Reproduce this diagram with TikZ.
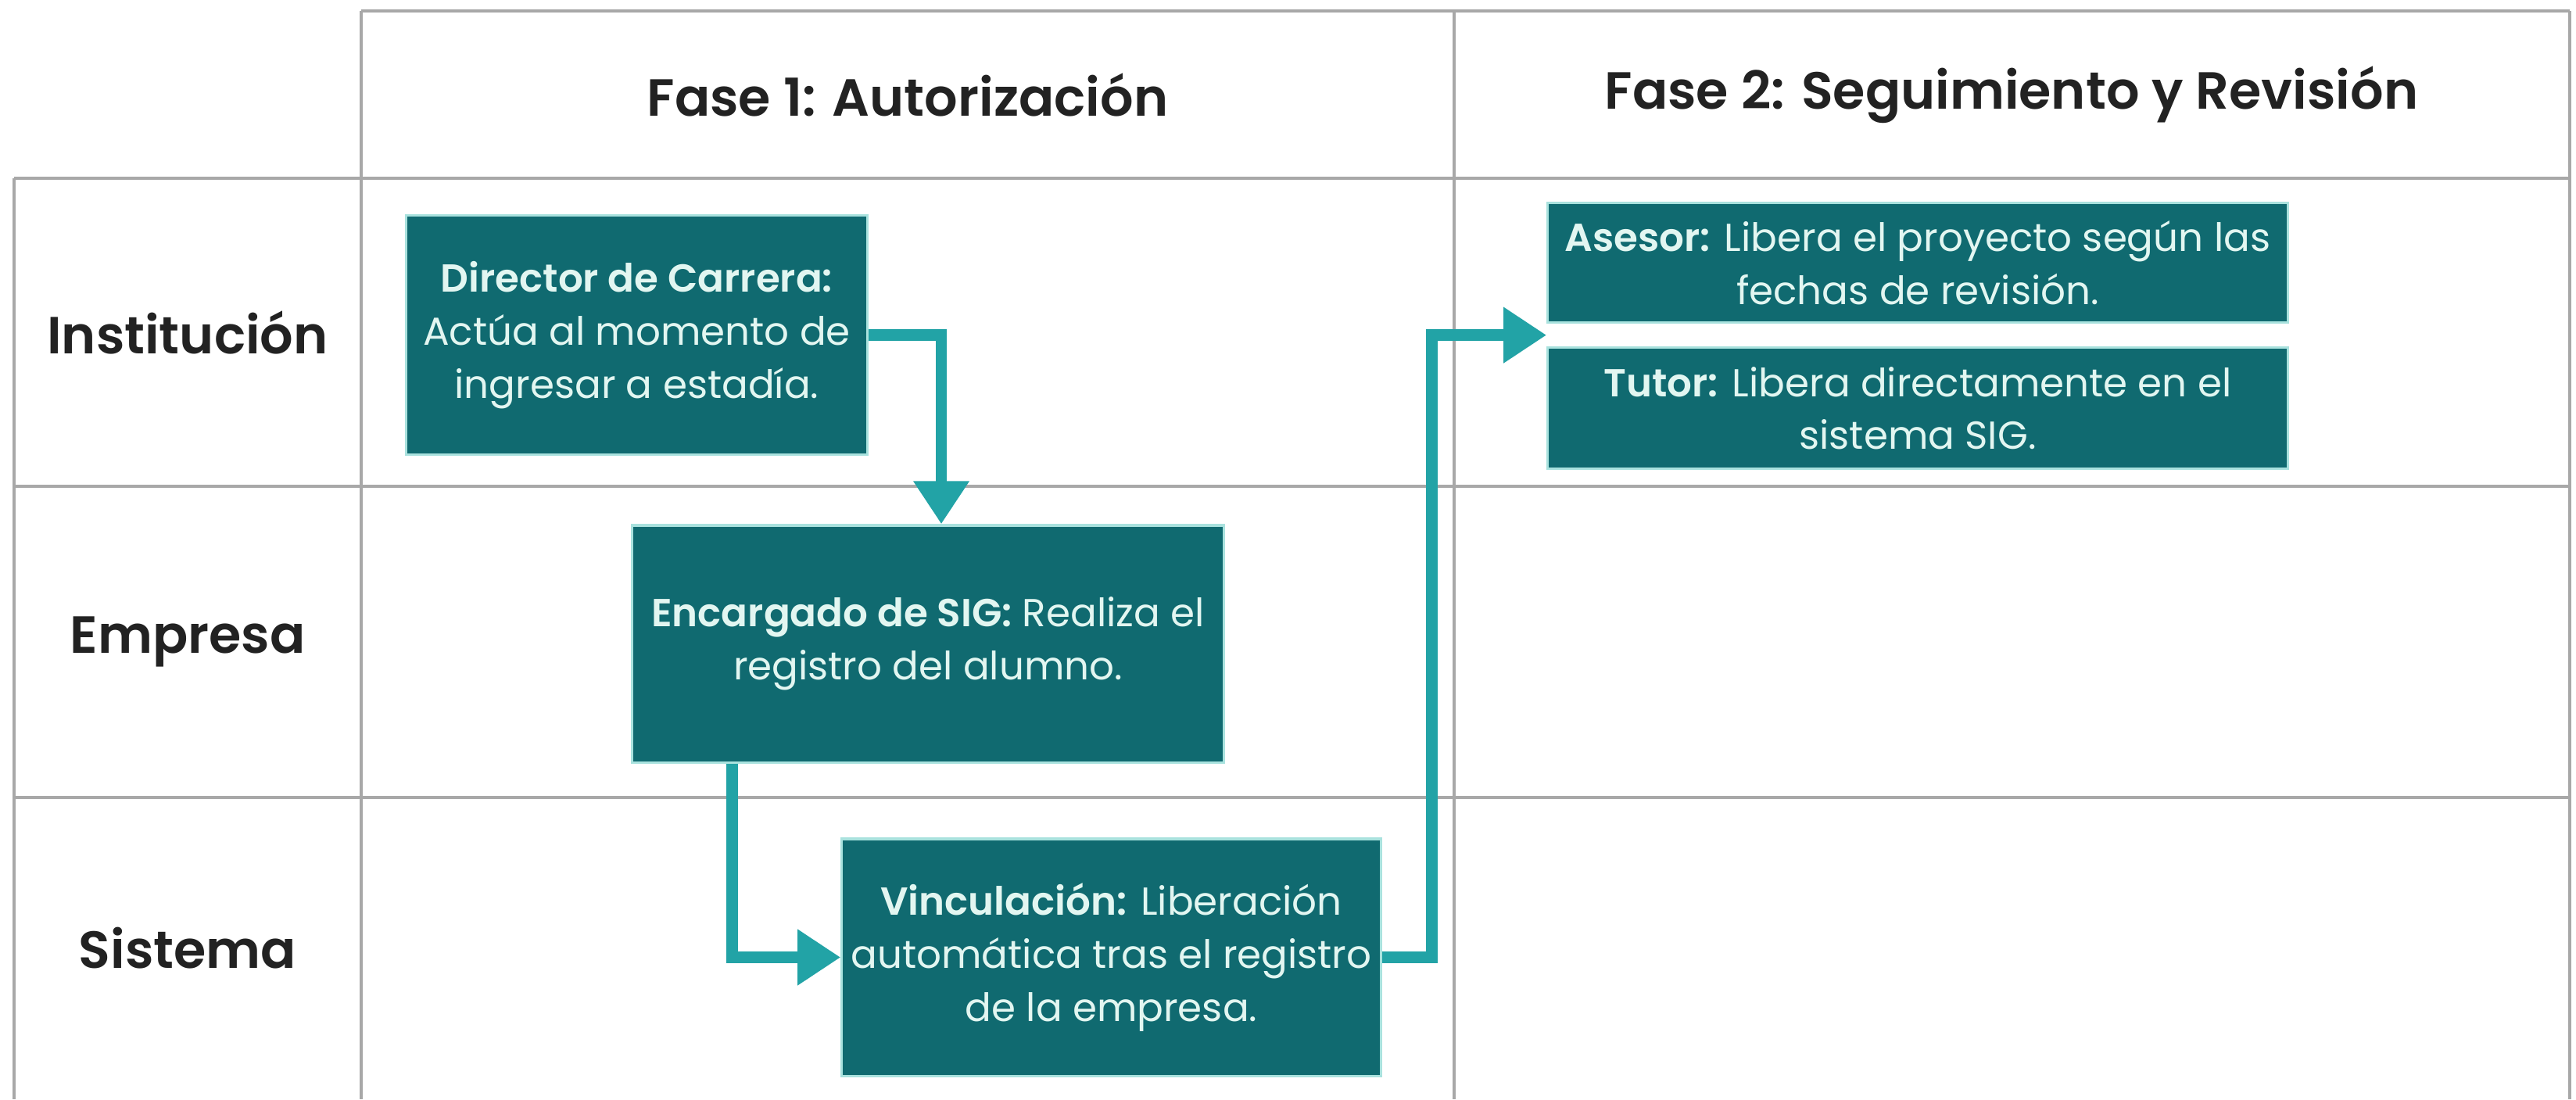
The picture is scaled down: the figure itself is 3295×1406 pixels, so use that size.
\documentclass[tikz,border=0pt]{standalone}
\usepackage{fontspec}
\setmainfont{Poppins}[BoldFont={Poppins SemiBold}]
\usepackage{tikz}
\usetikzlibrary{calc,positioning,arrows.meta}
\definecolor{tealbox}{HTML}{106A70}
\definecolor{tealline}{HTML}{22A3A6}
\definecolor{tealedge}{HTML}{A9E2DE}
\definecolor{boxtext}{HTML}{E2F6F1}
\definecolor{gridgray}{HTML}{A8A8A8}
\definecolor{labeltext}{HTML}{222222}

\begin{document}
\begin{tikzpicture}[
                x=0.01cm,y=-0.01cm,
                node distance=0pt,
                caja/.style n args={2}{draw=tealedge,line width=0.9pt,fill=tealbox,text=boxtext,minimum width=#1,minimum height=#2,align=center,inner sep=0pt,font=\fontsize{14.2}{19.3}\selectfont},
                rotulo/.style={text=labeltext,font=\fontsize{19}{22}\selectfont\bfseries},
                rejilla/.style={draw=gridgray,line width=0.9pt},
                flujo/.style={draw=tealline,line width=4.2pt,-{Triangle[length=0.55cm,width=0.68cm]}}
            ]
                \useasboundingbox (0,0) rectangle (3295,1406);
                % tabla
                \draw[rejilla] (462,14) -- (3287,14);
                \foreach \y in {228,622,1020}
                    \draw[rejilla] (18,\y) -- (3287,\y);
                \draw[rejilla] (18,228) -- (18,1406);
                \foreach \x in {462,1860,3287}
                    \draw[rejilla] (\x,14) -- (\x,1406);
                % encabezados
                \node (f1) [rotulo] at (1161,121) {Fase 1: Autorización};
                \node (f2) [rotulo] at (2573,121) {Fase 2: Seguimiento y Revisión};
                \node (inst) [rotulo] at (240,425) {Institución};
                \node (emp) [rotulo] at (240,821) {Empresa};
                \node (sis) [rotulo] at (240,1213) {Sistema};
                % cajas
                \node (dir) [caja={5.89cm}{3.05cm}] at (814.5,428.5) {\textbf{Director de Carrera:}\\Actúa al momento de\\ingresar a estadía.};
                \node (enc) [caja={7.56cm}{3.03cm}] at (1187,823.5) {\textbf{Encargado de SIG:} Realiza el\\registro del alumno.};
                \node (vin) [caja={6.89cm}{3.03cm}] at (1421.5,1224.5) {\textbf{Vinculación:} Liberación\\automática tras el registro\\de la empresa.};
                \node (ase) [caja={9.46cm}{1.53cm}] at (2453,336) {\textbf{Asesor:} Libera el proyecto según las\\fechas de revisión.};
                \node (tut) [caja={9.46cm}{1.55cm},below=0.29cm of ase] {\textbf{Tutor:} Libera directamente en el\\sistema SIG.};
                \coordinate (hueco) at ($(ase.south west)!.5!(tut.north west)$);
                % flechas
                \draw[flujo] (dir.east) -| ([xshift=0.17cm]enc.north);
                \draw[flujo] ([xshift=-2.5cm]enc.south) |- (vin.west);
                \draw[flujo] (vin.east) -- ++(64,0) |- (hueco);
            \end{tikzpicture}
\end{document}
